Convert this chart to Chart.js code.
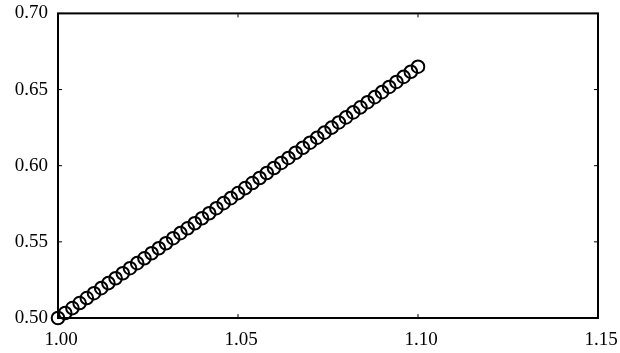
<!DOCTYPE html>
<html>
<head>
<meta charset="utf-8">
<script src="https://cdn.jsdelivr.net/npm/chart.js@4/dist/chart.umd.min.js"></script>
<style>
  html, body { margin: 0; padding: 0; background: #fff; }
  #wrap { width: 620px; height: 353px; }
</style>
</head>
<body>
<div id="wrap"><canvas id="c" width="620" height="353"></canvas></div>
<script>
// x values, step 0.002 from 1.00 to 1.10
const xVals = [
  1.000, 1.002, 1.004, 1.006, 1.008, 1.010, 1.012, 1.014, 1.016, 1.018,
  1.020, 1.022, 1.024, 1.026, 1.028, 1.030, 1.032, 1.034, 1.036, 1.038,
  1.040, 1.042, 1.044, 1.046, 1.048, 1.050, 1.052, 1.054, 1.056, 1.058,
  1.060, 1.062, 1.064, 1.066, 1.068, 1.070, 1.072, 1.074, 1.076, 1.078,
  1.080, 1.082, 1.084, 1.086, 1.088, 1.090, 1.092, 1.094, 1.096, 1.098,
  1.100
];
const yVals = [
  0.5000, 0.5033, 0.5065, 0.5098, 0.5131, 0.5163, 0.5196, 0.5229, 0.5261, 0.5294,
  0.5327, 0.5360, 0.5392, 0.5425, 0.5458, 0.5491, 0.5524, 0.5557, 0.5589, 0.5622,
  0.5655, 0.5688, 0.5721, 0.5754, 0.5787, 0.5820, 0.5853, 0.5886, 0.5919, 0.5952,
  0.5985, 0.6018, 0.6051, 0.6085, 0.6118, 0.6151, 0.6184, 0.6217, 0.6250, 0.6284,
  0.6317, 0.6350, 0.6383, 0.6417, 0.6450, 0.6483, 0.6517, 0.6550, 0.6583, 0.6617,
  0.6650
];
const xTicks = [1.00, 1.05, 1.10, 1.15];
const yTicks = [0.50, 0.55, 0.60, 0.65, 0.70];

const points = xVals.map((x, i) => ({ x: x, y: yVals[i] }));

// frame box + small inward ticks
const frame = {
  id: "frame",
  afterDatasetsDraw(chart) {
    const { ctx, chartArea: a, scales } = chart;
    ctx.save();
    ctx.strokeStyle = "#000";
    ctx.lineWidth = 1;
    xTicks.forEach(v => {
      const px = scales.x.getPixelForValue(v);
      ctx.beginPath();
      ctx.moveTo(px, a.bottom); ctx.lineTo(px, a.bottom - 4);
      ctx.moveTo(px, a.top); ctx.lineTo(px, a.top + 4);
      ctx.stroke();
    });
    yTicks.forEach(v => {
      const py = scales.y.getPixelForValue(v);
      ctx.beginPath();
      ctx.moveTo(a.left, py); ctx.lineTo(a.left + 4, py);
      ctx.moveTo(a.right, py); ctx.lineTo(a.right - 4, py);
      ctx.stroke();
    });
    ctx.lineWidth = 2;
    ctx.strokeRect(a.left, a.top, a.right - a.left, a.bottom - a.top);
    ctx.restore();
  }
};

new Chart(document.getElementById("c"), {
  type: "scatter",
  data: {
    datasets: [{
      data: points,
      showLine: false,
      pointStyle: "circle",
      pointRadius: 6.3,
      pointBorderWidth: 2,
      borderColor: "#000",
      backgroundColor: "rgba(0,0,0,0)",
      clip: false
    }]
  },
  options: {
    responsive: false,
    animation: false,
    layout: { padding: { top: 12, right: 22, left: 0, bottom: 0 } },
    plugins: { legend: { display: false }, tooltip: { enabled: false } },
    scales: {
      x: {
        type: "linear",
        min: 1.00,
        max: 1.15,
        afterBuildTicks: s => { s.ticks = xTicks.map(v => ({ value: v })); },
        afterFit: s => { s.height = 35; },
        grid: { display: false },
        border: { display: false },
        ticks: {
          color: "#000",
          font: { family: "Liberation Serif", size: 19 },
          padding: 3,
          labelOffset: 3,
          maxRotation: 0,
          callback: v => v.toFixed(2)
        }
      },
      y: {
        min: 0.50,
        max: 0.70,
        afterBuildTicks: s => { s.ticks = yTicks.map(v => ({ value: v })); },
        afterFit: s => { s.width = 58; },
        grid: { display: false },
        border: { display: false },
        ticks: {
          color: "#000",
          font: { family: "Liberation Serif", size: 19 },
          padding: 2,
          callback: v => v.toFixed(2)
        }
      }
    }
  },
  plugins: [frame]
});
</script>
</body>
</html>
